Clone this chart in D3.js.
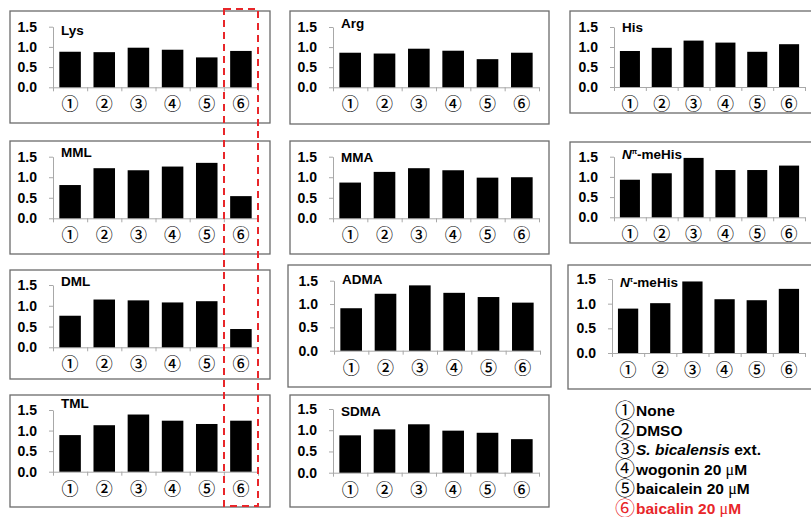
<!DOCTYPE html>
<html lang="en">
<head>
<meta charset="UTF-8">
<title>Amino acid levels</title>
<script src="https://cdn.jsdelivr.net/npm/d3@7"></script>
<style>
  body { margin: 0; background: #fff; }
  svg { display: block; font-family: "Liberation Sans", Arial, sans-serif; }
  .box { fill: none; stroke: #6b6b6b; stroke-width: 1.3; }
  .axis path, .axis line { stroke: #a8a8a8; }
  .y text { font-size: 14px; font-weight: bold; fill: #000; }
  .x text { font-family: "Noto Sans CJK JP", sans-serif; font-size: 17px; font-weight: 500; fill: #000; }
  .title { font-size: 13.5px; font-weight: bold; }
  .legend .lbl { font-size: 15.5px; font-weight: bold; }
  .legend .num { font-family: "Noto Sans CJK JP", sans-serif; font-size: 20px; font-weight: normal; }
</style>
</head>
<body>
<svg id="chart" width="811" height="517"></svg>
<script>
// categories and ticks
const groups = ["①", "②", "③", "④", "⑤", "⑥"];
const yTicks = [0, 0.5, 1.0, 1.5];

// relative levels
const lys   = [0.88, 0.87, 0.98, 0.93, 0.74, 0.90];
const arg   = [0.86, 0.84, 0.96, 0.91, 0.70, 0.86];
const his   = [0.90, 0.98, 1.16, 1.11, 0.88, 1.07];
const mml   = [0.81, 1.22, 1.17, 1.26, 1.35, 0.54];
const mma   = [0.87, 1.13, 1.22, 1.17, 0.99, 1.00];
const nPiHis = [0.93, 1.09, 1.47, 1.17, 1.17, 1.28];
const dml   = [0.76, 1.15, 1.13, 1.08, 1.11, 0.44];
const adma  = [0.91, 1.22, 1.40, 1.24, 1.15, 1.03];
const nTauHis = [0.90, 1.01, 1.45, 1.09, 1.07, 1.30];
const tml   = [0.89, 1.13, 1.39, 1.24, 1.16, 1.24];
const sdma  = [0.88, 1.02, 1.14, 0.99, 0.94, 0.79];

const legendItems = ["None", "DMSO", "S. bicalensis ext.", "wogonin 20 μM", "baicalein 20 μM", "baicalin 20 μM"];

// panel layout: box, axis x range, y pixel for 1.5 and 0, title baseline
const panels = [
  { title: "Lys",  values: lys,  box: [10, 11, 260, 112],  ax: [53, 258],  y15: 26.7, y0: 87.3, ty: 35 },
  { title: "Arg",  values: arg,  box: [290, 11, 259, 113], ax: [333, 539], y15: 27,   y0: 87.3, ty: 27.5 },
  { title: "His",  values: his,  box: [570, 11, 250, 102], ax: [614, 805], y15: 27,   y0: 87,   ty: 32 },
  { title: "MML",  values: mml,  box: [10, 141, 260, 113], ax: [53, 258],  y15: 156.7, y0: 218.3, ty: 156.5 },
  { title: "MMA",  values: mma,  box: [290, 141, 259, 113], ax: [333, 539], y15: 156.7, y0: 218.3, ty: 161.5 },
  { title: "Nπ",   values: nPiHis, box: [570, 142, 250, 101], ax: [614, 805], y15: 156.7, y0: 217.3, ty: 159 },
  { title: "DML",  values: dml,  box: [10, 270, 260, 109], ax: [53, 258],  y15: 285, y0: 347.3, ty: 285.5 },
  { title: "ADMA", values: adma, box: [288, 265, 263, 122], ax: [334, 540], y15: 280.7, y0: 350.7, ty: 284 },
  { title: "Nτ",   values: nTauHis, box: [568, 265, 252, 124], ax: [612, 805], y15: 279, y0: 353, ty: 286.5 },
  { title: "TML",  values: tml,  box: [10, 395, 260, 112], ax: [53, 258],  y15: 410, y0: 471.7, ty: 408 },
  { title: "SDMA", values: sdma, box: [290, 395, 259, 112], ax: [333, 539], y15: 409, y0: 472.7, ty: 416 }
];

const svg = d3.select("#chart");

panels.forEach(p => {
  const g = svg.append("g");
  g.append("rect").attr("class", "box")
    .attr("x", p.box[0]).attr("y", p.box[1])
    .attr("width", p.box[2]).attr("height", p.box[3]);

  const x = d3.scaleBand().domain(groups).range(p.ax)
    .paddingInner(0.37).paddingOuter(0.185);
  const xEdge = d3.scaleLinear().domain([0, groups.length]).range(p.ax);
  const y = d3.scaleLinear().domain([0, 1.5]).range([p.y0, p.y15]);

  // y axis
  g.append("g").attr("class", "axis y")
    .attr("transform", `translate(${p.ax[0]},0)`)
    .call(d3.axisLeft(y).tickValues(yTicks).tickFormat(d3.format(".1f"))
      .tickSizeInner(4).tickSizeOuter(0).tickPadding(12));

  // category boundary ticks
  g.append("g").attr("class", "axis")
    .attr("transform", `translate(0,${p.y0})`)
    .call(d3.axisBottom(xEdge).tickValues(d3.range(groups.length + 1))
      .tickFormat("").tickSizeInner(4).tickSizeOuter(0));

  // category labels
  const xa = g.append("g").attr("class", "axis x")
    .attr("transform", `translate(0,${p.y0})`)
    .call(d3.axisBottom(x).tickSize(0).tickPadding(11));
  xa.select(".domain").remove();

  g.selectAll(".bar").data(p.values).join("rect")
    .attr("class", "bar")
    .attr("x", (d, i) => x(groups[i]))
    .attr("width", x.bandwidth())
    .attr("y", d => y(d))
    .attr("height", d => y(0) - y(d))
    .attr("fill", "#000");

  const t = g.append("text").attr("class", "title")
    .attr("x", p.ax[0] + 8).attr("y", p.ty);
  if (p.title === "Nπ" || p.title === "Nτ") {
    t.append("tspan").attr("font-style", "italic").text("N");
    t.append("tspan").attr("font-size", "7px").attr("dy", -5)
      .text(p.title === "Nπ" ? "π" : "τ");
    t.append("tspan").attr("dy", 5).text("-meHis");
  } else {
    t.text(p.title);
  }
});

// legend
const lg = svg.append("g").attr("class", "legend");
legendItems.forEach((name, i) => {
  const yy = 416 + i * 19.6;
  const col = i === 5 ? "#e8262a" : "#000";
  lg.append("text").attr("class", "num").attr("x", 615).attr("y", yy + 1.5)
    .attr("fill", col).text(groups[i]);
  const t = lg.append("text").attr("class", "lbl").attr("x", 636).attr("y", yy).attr("fill", col);
  if (i === 2) {
    t.append("tspan").attr("font-style", "italic").text("S. bicalensis");
    t.append("tspan").text(" ext.");
  } else if (name.includes("μM")) {
    t.append("tspan").text(name.replace(" μM", " "));
    t.append("tspan").attr("font-family", "Liberation Serif").attr("font-weight", "normal")
      .attr("font-size", "16px").text("μ");
    t.append("tspan").text("M");
  } else {
    t.text(name);
  }
});

// red dashed highlight around group 6 in first column
svg.append("rect")
  .attr("x", 224).attr("y", 9).attr("width", 34).attr("height", 497)
  .attr("fill", "none").attr("stroke", "#e8262a")
  .attr("stroke-width", 2).attr("stroke-dasharray", "7,5");
</script>
</body>
</html>
